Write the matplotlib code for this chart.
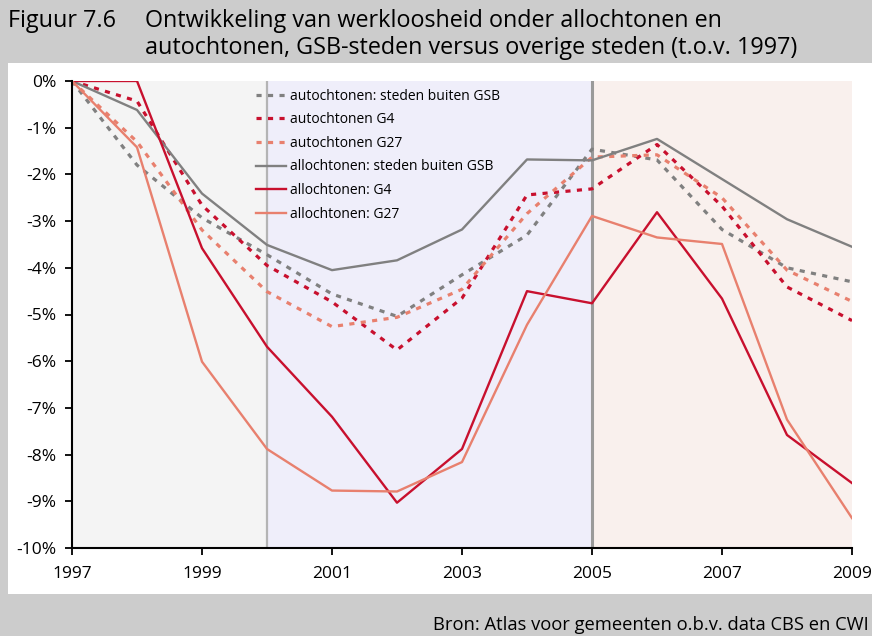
import matplotlib.pyplot as plt
import numpy as np

# unemployment change relative to 1997, in percent
years = list(range(1997, 2010))

auto_overig = [0, -1.80, -2.93, -3.72, -4.56, -5.04, -4.15, -3.30, -1.46, -1.69, -3.18, -4.00, -4.30]
auto_g4 = [0, -0.43, -2.66, -3.95, -4.73, -5.76, -4.65, -2.44, -2.31, -1.36, -2.68, -4.41, -5.13]
auto_g27 = [0, -1.30, -3.19, -4.51, -5.26, -5.06, -4.46, -2.84, -1.63, -1.58, -2.50, -4.05, -4.72]
allo_overig = [0, -0.62, -2.41, -3.51, -4.05, -3.84, -3.18, -1.68, -1.70, -1.24, -2.10, -2.96, -3.55]
allo_g4 = [0, 0, -3.58, -5.69, -7.19, -9.03, -7.88, -4.50, -4.76, -2.81, -4.66, -7.58, -8.61]
allo_g27 = [0, -1.42, -6.01, -7.88, -8.77, -8.79, -8.16, -5.22, -2.89, -3.35, -3.49, -7.25, -9.36]

labels = ["autochtonen: steden buiten GSB", "autochtonen G4", "autochtonen G27",
          "allochtonen: steden buiten GSB", "allochtonen: G4", "allochtonen: G27"]

GREY = "#808080"
RED = "#c8102e"
SALMON = "#e8806e"

plt.rcParams['font.family'] = ['Open Sans', 'DejaVu Sans']

W, H = 872, 636
fig = plt.figure(figsize=(W / 100, H / 100), dpi=100)
fig.patch.set_facecolor("#cccccc")

# white panel between the grey header and footer bands
fig.add_artist(plt.Rectangle((8 / W, 1 - 594 / H), 1, (594 - 63) / H,
                             transform=fig.transFigure, facecolor="white",
                             edgecolor="none", zorder=0))

ax = fig.add_axes([72 / W, 1 - 548 / H, 780 / W, 467 / H])
ax.set_facecolor("none")

# period shading
ax.axvspan(1997, 2000, color="#f4f4f4", zorder=0, lw=0)
ax.axvspan(2000, 2005, color="#efeefa", zorder=0, lw=0)
ax.axvspan(2005, 2009, color="#f9f0ed", zorder=0, lw=0)
ax.axvline(2000, color="#b4b4b4", lw=1.6, zorder=1)
ax.axvline(2005, color="#9a9a9a", lw=2.2, zorder=1)

dash = (0, (1.6, 2.0))
ax.plot(years, auto_overig, color=GREY, lw=2.3, ls=dash, label=labels[0], zorder=3)
ax.plot(years, auto_g4, color=RED, lw=2.3, ls=dash, label=labels[1], zorder=3)
ax.plot(years, auto_g27, color=SALMON, lw=2.3, ls=dash, label=labels[2], zorder=3)
ax.plot(years, allo_overig, color=GREY, lw=1.7, label=labels[3], zorder=3)
ax.plot(years, allo_g4, color=RED, lw=1.7, label=labels[4], zorder=3)
ax.plot(years, allo_g27, color=SALMON, lw=1.7, label=labels[5], zorder=3)

ax.set_xlim(1997, 2009)
ax.set_ylim(-10, 0)
ax.set_xticks(range(1997, 2010, 2))
ax.set_yticks(range(-10, 1))
ax.set_yticklabels([f"{v}%" for v in range(-10, 1)])
ax.tick_params(labelsize=12.5, length=5, width=1.3, direction="out")
ax.tick_params(axis="x", pad=8)
ax.tick_params(axis="y", pad=6)
for s in ["top", "right"]:
    ax.spines[s].set_visible(False)
for s in ["left", "bottom"]:
    ax.spines[s].set_linewidth(1.5)
    ax.spines[s].set_zorder(4)

leg = ax.legend(loc="upper left", bbox_to_anchor=(250 / W, 1 - 83 / H),
                bbox_transform=fig.transFigure, frameon=False, fontsize=10,
                handlelength=2.2, handletextpad=0.3, labelspacing=0.62,
                borderaxespad=0)

fig.text(8 / W, 1 - 21 / H, "Figuur 7.6", fontsize=16.8, va="center", ha="left")
fig.text(145 / W, 1 - 21 / H, "Ontwikkeling van werkloosheid onder allochtonen en",
         fontsize=16.8, va="center", ha="left")
fig.text(145 / W, 1 - 48 / H, "autochtonen, GSB-steden versus overige steden (t.o.v. 1997)",
         fontsize=16.8, va="center", ha="left")
fig.text(869 / W, 1 - 625 / H, "Bron: Atlas voor gemeenten o.b.v. data CBS en CWI",
         fontsize=13.2, va="center", ha="right")

fig.savefig("out.png", dpi=100)
